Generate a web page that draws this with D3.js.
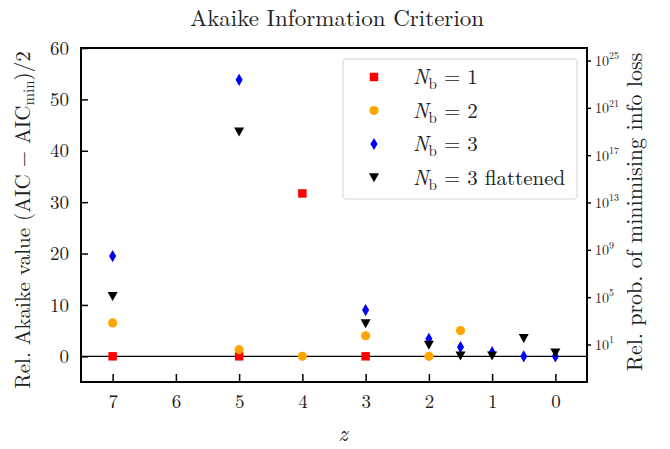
<!DOCTYPE html>
<html lang="en">
<head>
<meta charset="UTF-8">
<title>Akaike Information Criterion</title>
<style>
  body { margin: 0; background: #fff; }
  svg text { font-family: "Latin Modern Roman", "CMU Serif", "DejaVu Serif", serif; fill: #222; }
</style>
</head>
<body>
<script src="https://d3js.org/d3.v7.min.js"></script>
<script>
// data: relative AIC value per redshift z
const zNb1 = [7, 5, 4, 3];
const aicNb1 = [0, 0, 31.7, 0];
const zNb2 = [7, 5, 4, 3, 2, 1.5];
const aicNb2 = [6.5, 1.3, 0, 4.0, 0, 5.0];
const zNb3 = [7, 5, 3, 2, 1.5, 1, 0.5, 0];
const aicNb3 = [19.5, 53.8, 9.0, 3.4, 1.8, 0.8, 0, 0];
const zNb3f = [7, 5, 3, 2, 1.5, 1, 0.5, 0];
const aicNb3f = [11.7, 43.7, 6.4, 2.2, 0.1, 0.1, 3.5, 0.7];

const xTicks = [7, 6, 5, 4, 3, 2, 1, 0];
const yTicks = [0, 10, 20, 30, 40, 50, 60];
const rightExps = [1, 5, 9, 13, 17, 21, 25];

const W = 670, H = 449;
const pLeft = 81, pRight = 587, pTop = 48, pBottom = 382;

const svg = d3.select('body').append('svg')
  .attr('width', W).attr('height', H);

const x = d3.scaleLinear().domain([7.5, -0.5]).range([pLeft, pRight]);
const y = d3.scaleLinear().domain([-5, 60]).range([pBottom, pTop]);
// right axis: exp of the left value
const yR = d3.scaleLog().domain([Math.exp(-5), Math.exp(60)]).range([pBottom, pTop]);

// custom marker shapes
const thinDiamond = {
  draw(ctx, size) {
    const h = Math.sqrt(size) * 0.9, w = h * 0.29;
    ctx.moveTo(0, -h); ctx.lineTo(w * 2, 0); ctx.lineTo(0, h); ctx.lineTo(-w * 2, 0); ctx.closePath();
  }
};
const triDown = {
  draw(ctx, size) {
    const s = Math.sqrt(size) / 2;
    ctx.moveTo(-s, -s * 0.85); ctx.lineTo(s, -s * 0.85); ctx.lineTo(0, s * 0.95); ctx.closePath();
  }
};

const series = [
  { label: 'N_b = 1', z: zNb1, v: aicNb1, color: '#ff0000', sym: d3.symbolSquare, size: 72 },
  { label: 'N_b = 2', z: zNb2, v: aicNb2, color: '#ffa500', sym: d3.symbolCircle, size: 66 },
  { label: 'N_b = 3', z: zNb3, v: aicNb3, color: '#0000ff', sym: thinDiamond, size: 46 },
  { label: 'N_b = 3 flattened', z: zNb3f, v: aicNb3f, color: '#000000', sym: triDown, size: 100 }
];

// zero line
svg.append('line')
  .attr('x1', pLeft).attr('x2', pRight)
  .attr('y1', y(0)).attr('y2', y(0))
  .attr('stroke', '#000').attr('stroke-width', 1.2);

// points
series.forEach(s => {
  svg.append('g').selectAll('path')
    .data(s.z.map((z, i) => [z, s.v[i]]))
    .join('path')
    .attr('transform', d => `translate(${x(d[0])},${y(d[1])})`)
    .attr('d', d3.symbol().type(s.sym).size(s.size))
    .attr('fill', s.color);
});

// axes
const gx = svg.append('g').attr('transform', `translate(0,${pBottom})`)
  .call(d3.axisBottom(x).tickValues(xTicks).tickSizeInner(-8).tickSizeOuter(0).tickPadding(13));
const gy = svg.append('g').attr('transform', `translate(${pLeft},0)`)
  .call(d3.axisLeft(y).tickValues(yTicks).tickSizeInner(-7).tickSizeOuter(0).tickPadding(12));
const gr = svg.append('g').attr('transform', `translate(${pRight},0)`)
  .call(d3.axisRight(yR).tickValues(rightExps.map(e => Math.pow(10, e))).tickSizeInner(4).tickSizeOuter(0).tickPadding(4).tickFormat(''));

[gx, gy, gr].forEach(g => {
  g.select('.domain').remove();
  g.selectAll('.tick line').attr('stroke', '#000').attr('stroke-width', 1.5);
});
gx.selectAll('.tick text').attr('font-size', 19).attr('fill', '#222');
gy.selectAll('.tick text').attr('font-size', 19).attr('fill', '#222');

// right tick labels as 10^n
gr.selectAll('.tick').each(function(d, i) {
  const t = d3.select(this).append('text')
    .attr('x', 8).attr('dy', '0.35em')
    .attr('font-size', 14).attr('fill', '#222').attr('text-anchor', 'start');
  t.append('tspan').text('10');
  t.append('tspan').attr('font-size', 10).attr('dy', '-0.65em').text(rightExps[i]);
});

// frame
svg.append('rect')
  .attr('x', pLeft).attr('y', pTop)
  .attr('width', pRight - pLeft).attr('height', pBottom - pTop)
  .attr('fill', 'none').attr('stroke', '#000').attr('stroke-width', 2);

// title and labels
svg.append('text')
  .attr('x', (pLeft + pRight) / 2 + 3).attr('y', 26)
  .attr('text-anchor', 'middle').attr('font-size', 23)
  .text('Akaike Information Criterion');

svg.append('text')
  .attr('x', 343).attr('y', 441)
  .attr('text-anchor', 'middle').attr('font-size', 23).attr('font-style', 'italic')
  .text('z');

const yl = svg.append('text')
  .attr('transform', `translate(30,${(pTop + pBottom) / 2 + 5}) rotate(-90)`)
  .attr('text-anchor', 'middle').attr('font-size', 21);
yl.append('tspan').text('Rel. Akaike value (AIC − AIC');
yl.append('tspan').attr('font-size', 15).attr('dy', 4).text('min');
yl.append('tspan').attr('dy', -4).text(')/2');

svg.append('text')
  .attr('transform', `translate(642,${(pTop + pBottom) / 2 - 3}) rotate(-90)`)
  .attr('text-anchor', 'middle').attr('font-size', 22)
  .text('Rel. prob. of minimising info loss');

// legend
const lg = svg.append('g').attr('transform', 'translate(343,59)');
lg.append('rect')
  .attr('width', 234).attr('height', 140).attr('rx', 3)
  .attr('fill', 'rgba(255,255,255,0.8)').attr('stroke', '#d6d6d6').attr('stroke-width', 1);
series.forEach((s, i) => {
  const row = lg.append('g').attr('transform', `translate(0,${18 + i * 33.5})`);
  row.append('path')
    .attr('transform', 'translate(31,0)')
    .attr('d', d3.symbol().type(s.sym).size(s.size))
    .attr('fill', s.color);
  const t = row.append('text').attr('x', 70).attr('dy', '0.35em').attr('font-size', 21);
  t.append('tspan').attr('font-style', 'italic').text('N');
  t.append('tspan').attr('font-size', 15).attr('dy', 5).text('b');
  t.append('tspan').attr('dy', -5).text(' = ' + s.label.split('= ')[1]);
});
</script>
</body>
</html>
